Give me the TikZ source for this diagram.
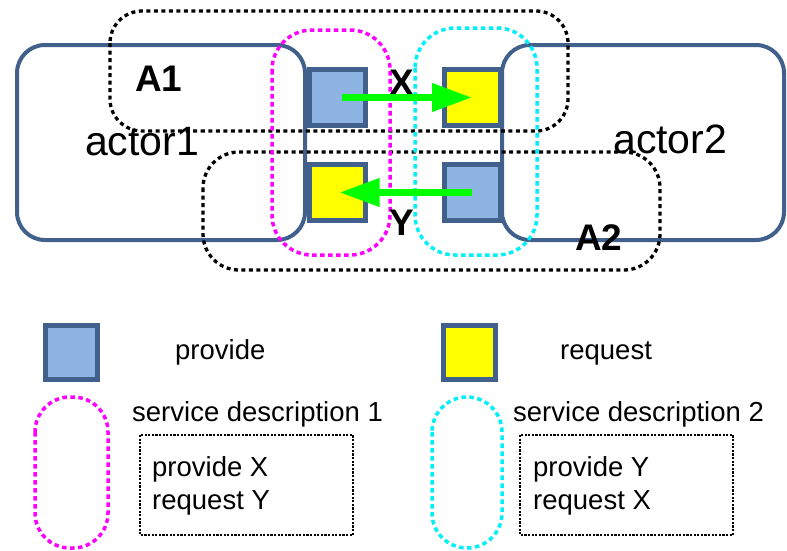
\documentclass[tikz,border=0pt]{standalone}
\usepackage{fontspec}
\setmainfont{Liberation Sans}
\usetikzlibrary{arrows.meta}
\definecolor{actorblue}{HTML}{41618C}
\definecolor{sqblue}{HTML}{8EB4E3}
\definecolor{sqyellow}{HTML}{FFFF00}
\definecolor{arrgreen}{HTML}{00FF00}
\definecolor{sdmag}{HTML}{FF00FF}
\definecolor{sdcyan}{HTML}{00F0F8}
\tikzset{
  actorbox/.style={draw=actorblue, line width=4pt, rounded corners=28pt},
  provsq/.style={draw=actorblue, fill=sqblue, line width=5pt, minimum width=56pt, minimum height=56pt, inner sep=0pt},
  reqsq/.style={draw=actorblue, fill=sqyellow, line width=5pt, minimum width=56pt, minimum height=56pt, inner sep=0pt},
  regionline/.style={draw=black, line width=3.3pt, dash pattern=on 4pt off 3.5pt},
  sdone/.style={draw=sdmag, line width=3.5pt, dash pattern=on 4.5pt off 3.5pt},
  sdtwo/.style={draw=sdcyan, line width=3.5pt, dash pattern=on 4.5pt off 3.5pt},
  legbox/.style={draw=black, line width=2.5pt, dash pattern=on 2.2pt off 1.4pt},
  flow/.style={draw=arrgreen, line width=7pt, -{Triangle[length=40pt,width=27pt]}},
  lbl/.style={inner sep=0pt, anchor=base west},
  big/.style={lbl, font=\fontsize{41}{48}\selectfont},
  bold/.style={lbl, font=\fontsize{37}{44}\selectfont\bfseries},
  leg/.style={lbl, font=\fontsize{27.5}{33}\selectfont},
}
\begin{document}
\begin{tikzpicture}[x=1pt,y=-1pt]
\useasboundingbox (0,0) rectangle (787,550);
% actors
\draw[actorbox] (17,45) rectangle (305,240);
\draw[actorbox] (502,45) rectangle (784,240);
\node[big] (actor1) at (85,155) {actor1};
\node[big] (actor2) at (613,153) {actor2};
% interface squares
\node[provsq] (p1) at (337.5,97.5) {};
\node[reqsq]  (r1) at (337.5,192.5) {};
\node[reqsq]  (r2) at (472,97.5) {};
\node[provsq] (p2) at (472,192.5) {};
% regions
\draw[regionline, rounded corners=32pt] (110,11) rectangle (568,131);
\draw[regionline, rounded corners=36pt] (203,152) rectangle (660,270);
\draw[sdone, rounded corners=40pt] (272,30) rectangle (390,255);
\draw[sdtwo, rounded corners=40pt] (415,28) rectangle (537,255);
% labels
\node[bold] (a1) at (135,91) {A1};
\node[bold] (a2) at (575,250) {A2};
\node[bold] (lx) at (389,95) {X};
\node[bold] (ly) at (389,235) {Y};
% flows
\draw[flow] ([xshift=4pt]p1.center) -- (r2.center);
\draw[flow] (p2.center) -- ([xshift=2pt]r1.center);
% legend
\node[provsq, minimum width=52pt, minimum height=54pt] (lp) at (71.5,352.5) {};
\node[leg] (tp) at (175,359) {provide};
\node[reqsq, minimum width=52pt, minimum height=54pt] (lr) at (469,352.5) {};
\node[leg] (tr) at (560,359) {request};
\draw[sdone, rounded corners=35pt] (35,397) rectangle (108,548);
\node[leg] (sd1) at (132,421) {service description 1};
\draw[legbox] (140,435) rectangle (353,535);
\node[leg] (b1a) at (152,476) {provide X};
\node[leg] (b1b) at (152,509) {request Y};
\draw[sdtwo, rounded corners=35pt] (432,397) rectangle (502,548);
\node[leg] (sd2) at (513,421) {service description 2};
\draw[legbox] (520,435) rectangle (733,535);
\node[leg] (b2a) at (533,476) {provide Y};
\node[leg] (b2b) at (533,509) {request X};
\end{tikzpicture}
\end{document}
